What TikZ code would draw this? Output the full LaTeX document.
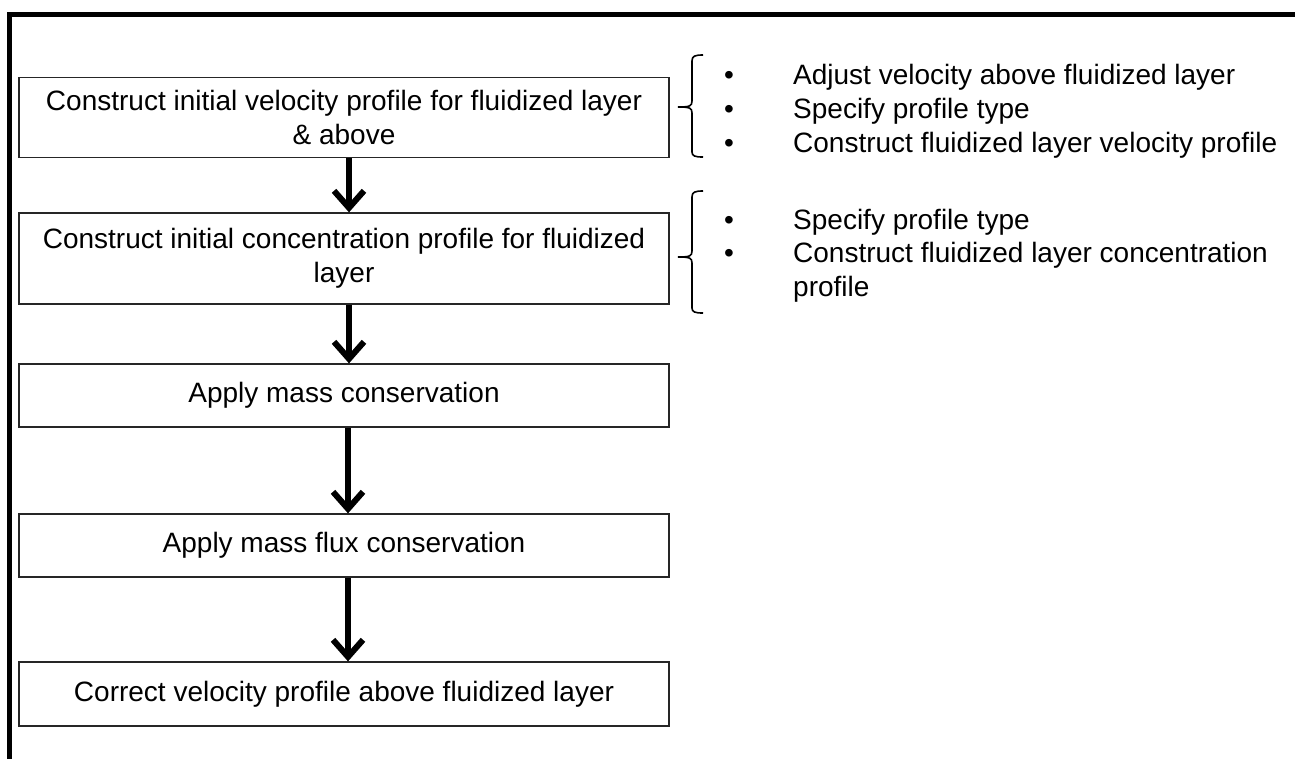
\documentclass[tikz,border=0pt]{standalone}
\usepackage{fontspec}
\setmainfont{Liberation Sans}
\usetikzlibrary{arrows.meta}
\begin{document}
\begin{tikzpicture}[x=1pt,y=-1pt,
  every node/.style={font=\fontsize{28}{34}\selectfont},
  stepbox/.style={draw=black!85, line width=1.3pt, inner sep=0pt, minimum width=650pt, align=center},
  arr/.style={line width=6pt, -{Straight Barb[length=17pt,width=30pt,line width=6pt]}},
  bracepath/.style={draw=black, line width=1.6pt},
  bullettext/.style={anchor=base west, inner sep=0pt},
  bulletdot/.style={anchor=base, inner sep=0pt}
]
\useasboundingbox (0,0) rectangle (1295,758);
\begin{scope}
\clip (0,0) rectangle (1295,758);
\draw[line width=5pt] (9,770) -- (9,14) -- (1310,14);
\end{scope}

% boxes
\node[stepbox, minimum height=80pt] (b1) at (344,117.5) {Construct initial velocity profile for fluidized layer\\ \& above};
\node[stepbox, minimum height=91pt] (b2) at (344,258.5) {Construct initial concentration profile for fluidized\\ layer};
\node[stepbox, minimum height=63pt] (b3) at (344,395.5) {Apply mass conservation};
\node[stepbox, minimum height=63pt] (b4) at (344,545.5) {Apply mass flux conservation};
\node[stepbox, minimum height=64pt] (b5) at (344,694) {Correct velocity profile above fluidized layer};

% arrows
\draw[arr] ([xshift=5pt]b1.south) -- ([xshift=5pt]b2.north);
\draw[arr] ([xshift=5pt]b2.south) -- ([xshift=5pt]b3.north);
\draw[arr] ([xshift=4pt]b3.south) -- ([xshift=4pt]b4.north);
\draw[arr] ([xshift=4pt]b4.south) -- ([xshift=4pt]b5.north);

% brace 1
\draw[bracepath] (703,55) .. controls (695,55) and (692,56) .. (692,61) -- (692,101)
  .. controls (692,106) and (690,107) .. (678,107)
  .. controls (690,107) and (692,108) .. (692,113) -- (692,152)
  .. controls (692,156) and (695,157) .. (703,157);
% brace 2
\draw[bracepath] (703,191) .. controls (695,191) and (692,192) .. (692,197) -- (692,251)
  .. controls (692,256) and (690,257) .. (678,257)
  .. controls (690,257) and (692,258) .. (692,263) -- (692,308)
  .. controls (692,312) and (695,313) .. (703,313);

% bullets group 1
\node[bulletdot] (d1) at (729,84) {•};
\node[bullettext] (t1) at (793,84) {Adjust velocity above fluidized layer};
\node[bulletdot] (d2) at (729,118) {•};
\node[bullettext] (t2) at (793,118) {Specify profile type};
\node[bulletdot] (d3) at (729,152) {•};
\node[bullettext] (t3) at (793,152) {Construct fluidized layer velocity profile};

% bullets group 2
\node[bulletdot] (d4) at (729,229) {•};
\node[bullettext] (t4) at (793,229) {Specify profile type};
\node[bulletdot] (d5) at (729,262) {•};
\node[bullettext] (t5) at (793,262) {Construct fluidized layer concentration};
\node[bullettext] (t6) at (793,296) {profile};
\end{tikzpicture}
\end{document}
